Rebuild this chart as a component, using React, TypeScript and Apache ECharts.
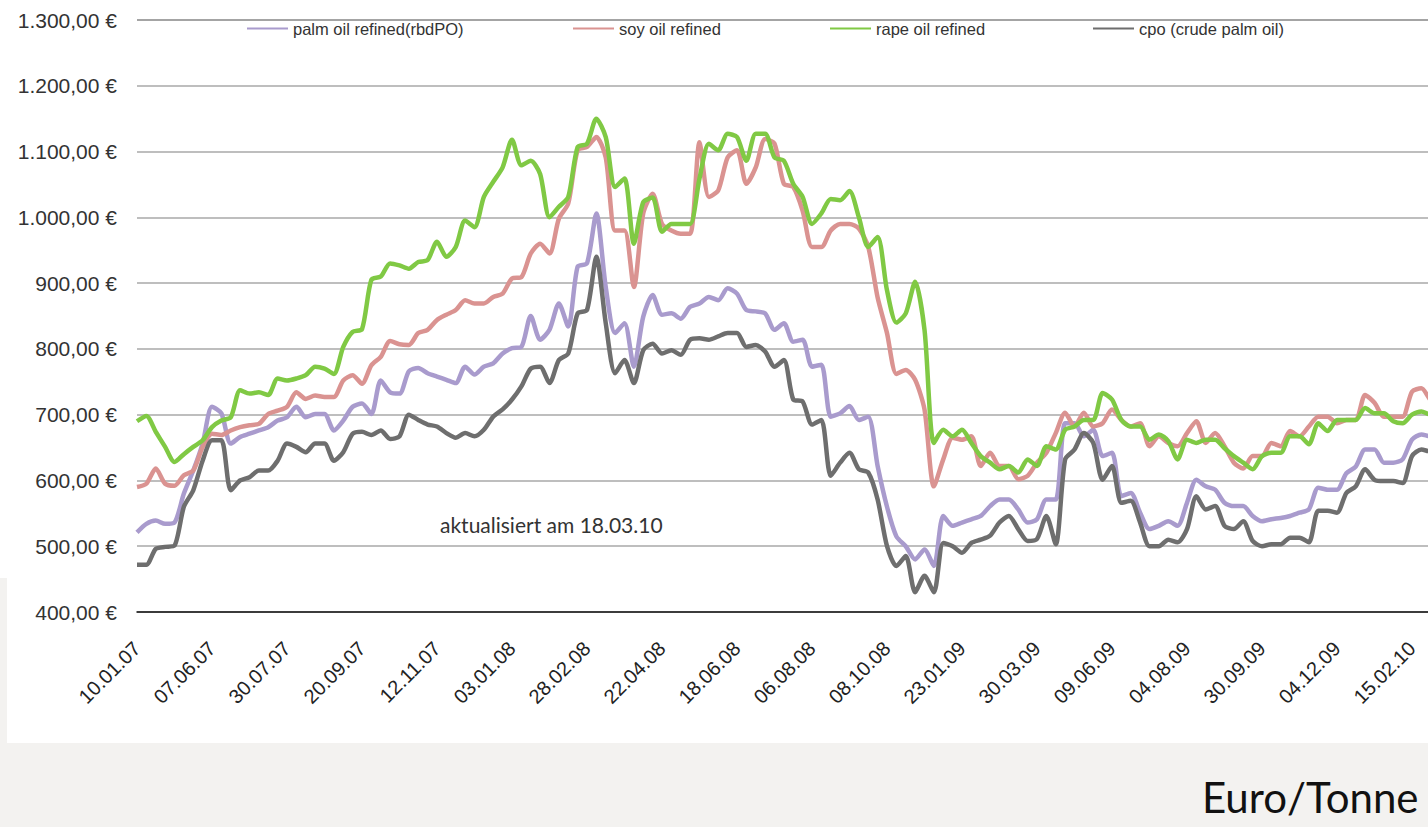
import React, { useEffect, useRef } from 'react';
import * as echarts from 'echarts';

const tickLabels = ['10.01.07', '07.06.07', '30.07.07', '20.09.07', '12.11.07', '03.01.08', '28.02.08', '22.04.08', '18.06.08', '06.08.08', '08.10.08', '23.01.09', '30.03.09', '09.06.09', '04.08.09', '30.09.09', '04.12.09', '15.02.10'];

const seriesNames = ['palm oil refined(rbdPO)', 'soy oil refined', 'rape oil refined', 'cpo (crude palm oil)'];

const palmOil = [521, 534, 539, 534, 536, 580, 615, 656, 712, 702, 656, 666, 671, 676, 681, 691, 696, 712, 696, 701, 701, 676, 691, 712, 717, 701, 752, 734, 732, 766, 771, 763, 758, 753, 748, 773, 761, 773, 778, 793, 801, 803, 850, 814, 829, 869, 834, 925, 930, 1006, 894, 824, 839, 773, 849, 882, 852, 854, 846, 864, 869, 879, 874, 892, 884, 859, 857, 854, 829, 839, 811, 814, 773, 776, 697, 702, 713, 692, 697, 622, 560, 515, 500, 480, 495, 470, 546, 531, 536, 541, 546, 561, 571, 571, 556, 536, 541, 571, 571, 687, 687, 667, 677, 637, 642, 576, 581, 551, 526, 531, 538, 531, 566, 601, 591, 586, 566, 561, 561, 546, 538, 541, 543, 546, 551, 556, 589, 586, 586, 611, 621, 647, 647, 627, 627, 632, 662, 670, 667, 670, 672];

const soyOil = [590, 595, 618, 595, 592, 608, 615, 651, 671, 669, 676, 681, 684, 686, 701, 706, 712, 734, 724, 729, 727, 727, 752, 760, 747, 775, 788, 812, 807, 806, 824, 829, 844, 852, 859, 874, 869, 869, 879, 884, 907, 909, 945, 960, 945, 998, 1021, 1102, 1107, 1122, 1091, 980, 980, 894, 1006, 1036, 990, 980, 975, 975, 1114, 1031, 1041, 1091, 1102, 1051, 1076, 1119, 1112, 1051, 1046, 1010, 955, 955, 980, 990, 990, 983, 955, 878, 824, 762, 768, 753, 708, 591, 632, 665, 662, 667, 622, 642, 622, 622, 602, 607, 627, 642, 672, 703, 682, 703, 682, 687, 708, 692, 682, 687, 652, 667, 657, 652, 672, 690, 657, 672, 652, 627, 618, 637, 637, 657, 652, 675, 667, 682, 697, 697, 687, 692, 692, 730, 718, 697, 697, 697, 735, 740, 722, 715, 718];

const rapeOil = [690, 698, 674, 651, 628, 640, 651, 661, 681, 691, 696, 737, 732, 734, 730, 755, 752, 755, 760, 773, 770, 762, 803, 826, 830, 905, 910, 930, 927, 922, 932, 935, 963, 940, 955, 995, 985, 1031, 1054, 1076, 1118, 1079, 1086, 1066, 1000, 1016, 1031, 1107, 1112, 1150, 1122, 1046, 1059, 960, 1023, 1030, 978, 990, 990, 990, 1059, 1112, 1102, 1127, 1122, 1086, 1127, 1127, 1091, 1086, 1051, 1031, 990, 1006, 1028, 1026, 1040, 1000, 955, 970, 889, 840, 854, 902, 829, 657, 677, 667, 677, 657, 637, 627, 617, 622, 612, 632, 622, 652, 647, 677, 682, 692, 692, 733, 723, 692, 682, 682, 662, 670, 660, 632, 662, 657, 662, 662, 649, 637, 627, 617, 637, 642, 642, 667, 667, 655, 687, 675, 692, 692, 692, 710, 702, 702, 690, 687, 700, 705, 700, 700, 702];

const crudePalmOil = [472, 472, 496, 499, 501, 560, 585, 630, 661, 661, 585, 600, 605, 615, 615, 630, 656, 651, 643, 656, 656, 630, 643, 671, 674, 669, 676, 663, 667, 700, 692, 685, 682, 672, 665, 672, 667, 677, 697, 708, 723, 743, 770, 773, 748, 783, 793, 854, 859, 940, 839, 763, 783, 748, 798, 808, 793, 798, 791, 814, 816, 814, 819, 824, 824, 803, 806, 796, 773, 783, 723, 720, 685, 692, 607, 627, 642, 617, 612, 571, 500, 470, 485, 430, 455, 430, 505, 500, 490, 505, 510, 516, 536, 546, 526, 508, 511, 546, 503, 632, 647, 672, 657, 601, 622, 566, 569, 536, 500, 500, 510, 506, 526, 576, 556, 561, 531, 526, 538, 508, 500, 503, 503, 513, 513, 506, 554, 554, 551, 581, 591, 617, 601, 599, 599, 596, 637, 647, 644, 645, 648];

const POINTS_PER_TICK = 8;
const categories = palmOil.map((_, i) => {
  const k = Math.floor(i / POINTS_PER_TICK);
  const r = i % POINTS_PER_TICK;
  const base = tickLabels[Math.min(k, tickLabels.length - 1)];
  return r === 0 && k < tickLabels.length ? base : `${base} +${r}`;
});

const colors = ['#a99bcd', '#da9391', '#80c944', '#6e6e6e'];
const seriesData = [palmOil, soyOil, rapeOil, crudePalmOil];

function fmtEuro(v: number): string {
  const s = Math.round(v).toString().replace(/\B(?=(\d{3})+(?!\d))/g, '.');
  return s + ',00 €';
}

export default function App() {
  const ref = useRef<HTMLDivElement>(null);
  useEffect(() => {
    document.body.style.margin = '0';
    document.body.style.overflow = 'hidden';
    const chart = echarts.init(ref.current as HTMLDivElement, undefined, { renderer: 'svg' });
    const legendLeft = [242, 568, 825, 1088];
    chart.setOption({
      animation: false,
      backgroundColor: '#ffffff',
      grid: { left: 137, top: 20, bottom: 215, right: 20.5, containLabel: false },
      legend: seriesNames.map((n, k) => ({
        data: [n],
        left: legendLeft[k],
        top: 15,
        icon: 'rect',
        itemWidth: 41,
        itemHeight: 2,
        itemGap: 0,
        selectedMode: false,
        textStyle: { fontFamily: 'Liberation Sans', fontSize: 16.5, color: '#333', padding: [0, 0, 0, 0] },
      })),
      xAxis: {
        type: 'category',
        data: categories,
        boundaryGap: false,
        axisLine: { show: true, lineStyle: { color: '#111', width: 1.5 } },
        axisTick: { show: false },
        axisLabel: {
          interval: POINTS_PER_TICK - 1,
          rotate: 45,
          margin: 33,
          fontFamily: 'Liberation Sans',
          fontSize: 20,
          color: '#222',
        },
        splitLine: { show: false },
      },
      yAxis: {
        type: 'value',
        min: 400,
        max: 1300,
        interval: 100,
        axisLine: { show: false },
        axisTick: { show: false },
        axisLabel: {
          formatter: fmtEuro,
          margin: 20,
          fontFamily: 'Liberation Sans',
          fontSize: 21,
          color: '#333',
        },
        splitLine: { show: true, lineStyle: { color: '#a8a8a8', width: 1.5 } },
      },
      series: seriesNames.map((n, k) => ({
        name: n,
        type: 'line',
        data: seriesData[k],
        symbol: 'none',
        showSymbol: false,
        smooth: 0.25,
        lineStyle: { color: colors[k], width: 4.5 },
        itemStyle: { color: colors[k] },
        z: 2 + k,
      })),
      graphic: [
        { type: 'rect', shape: { x: 0, y: 743, width: 1470, height: 84 }, style: { fill: '#f3f2f0' }, silent: true },
        { type: 'rect', shape: { x: 0, y: 578, width: 7, height: 165 }, style: { fill: '#f3f2f0' }, silent: true },
        { type: 'line', shape: { x1: 137, y1: 20, x2: 1470, y2: 20 }, style: { stroke: '#777', lineWidth: 1.5 }, silent: true },
        {
          type: 'text', x: 440, y: 514,
          style: { text: 'aktualisiert am 18.03.10', font: '21px Lato', fill: '#333' },
          silent: true,
        },
        {
          type: 'text', x: 1202, y: 776,
          style: { text: 'Euro/Tonne', font: '42px Lato', fill: '#111' },
          silent: true,
        },
      ],
    });
    return () => chart.dispose();
  }, []);
  return (
    <div style={{ position: 'absolute', left: 0, top: 0, width: 1428, height: 827, overflow: 'hidden' }}>
      <div ref={ref} style={{ width: 1470, height: 827 }} />
    </div>
  );
}
